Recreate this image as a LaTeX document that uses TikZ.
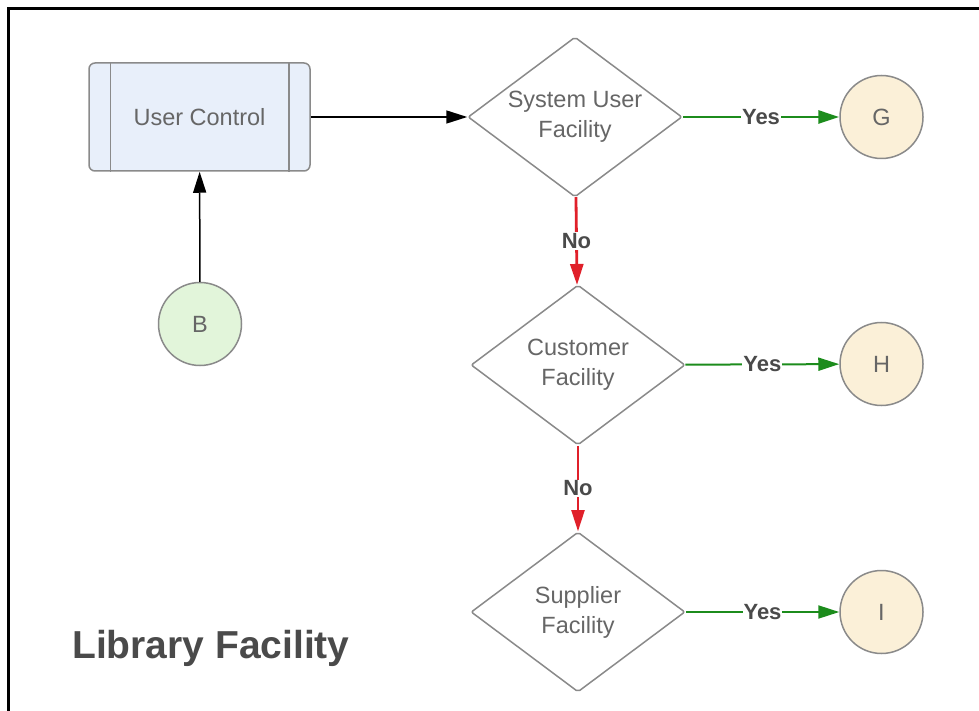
\documentclass[tikz,border=0pt]{standalone}
\usepackage{fontspec}
\setmainfont{Liberation Sans}
\usetikzlibrary{shapes.geometric,arrows.meta}

\definecolor{boxfill}{HTML}{E8EFFA}
\definecolor{startfill}{HTML}{E2F5DA}
\definecolor{endfill}{HTML}{FBF0D8}
\definecolor{shapeline}{HTML}{8A8A8A}
\definecolor{nodetext}{HTML}{666666}
\definecolor{labeltext}{HTML}{4A4A4A}
\definecolor{yesgreen}{HTML}{1C8C1C}
\definecolor{nored}{HTML}{E0202A}

\tikzset{
  nodefont/.style={text=nodetext, font=\fontsize{23.5}{30}\selectfont},
  procbox/.style={draw=shapeline, fill=boxfill, line width=1.5pt, rounded corners=6pt,
    minimum width=221pt, minimum height=108pt, inner sep=0pt, nodefont},
  decision/.style={diamond, draw=shapeline, fill=white, line width=1.5pt, rounded corners=2pt,
    minimum width=214pt, minimum height=160pt, inner sep=0pt},
  decisiontext/.style={align=center, inner sep=0pt, nodefont},
  startcirc/.style={circle, draw=shapeline, fill=startfill, line width=1.5pt,
    minimum size=83pt, inner sep=0pt, nodefont},
  endcirc/.style={circle, draw=shapeline, fill=endfill, line width=1.5pt,
    minimum size=83pt, inner sep=0pt, nodefont},
  tip/.style={-{Triangle[length=21pt,width=13pt]}},
  flow/.style={draw=black, line width=1.5pt, tip},
  yesflow/.style={draw=yesgreen, tip},
  noflow/.style={draw=nored, tip},
  edgelabel/.style={fill=white, inner sep=1pt, text=labeltext,
    font=\fontsize{22}{26}\selectfont\bfseries},
}

\begin{document}
\begin{tikzpicture}[x=1pt, y=-1pt]
  \useasboundingbox (0,0) rectangle (979,711);

  % frame along the top and left edges
  \coordinate (frameTL) at (8.5,8.5);
  \coordinate (frameTR) at (979,8.5);
  \coordinate (frameBL) at (8.5,711);
  \draw[line width=3pt] (frameBL) -- (frameTL) -- (frameTR);

  % predefined process box
  \node[procbox] (uc) at (199.5,117) {User Control};
  \draw[shapeline, line width=1.5pt] ([xshift=22pt]uc.north west) -- ([xshift=22pt]uc.south west);
  \draw[shapeline, line width=1.5pt] ([xshift=-22pt]uc.north east) -- ([xshift=-22pt]uc.south east);

  % start connector
  \node[startcirc] (b) at (200,324) {B};

  % decisions
  \node[decision] (d1) at (575,117) {};
  \node[decisiontext] (d1t) at (d1.center) {System User\\Facility};
  \node[decision] (d2) at (578,365) {};
  \node[decisiontext] (d2t) at (d2.center) {Customer\\Facility};
  \node[decision] (d3) at (578,612) {};
  \node[decisiontext] (d3t) at (d3.center) {Supplier\\Facility};

  % off-page connectors
  \node[endcirc] (g) at (881.5,117) {G};
  \node[endcirc] (h) at (881.5,364) {H};
  \node[endcirc] (i) at (881.5,612) {I};

  % flows
  \draw[flow] (b) -- (uc);
  \draw[flow] (uc) -- (d1);

  \draw[yesflow, line width=2.8pt] (d1) -- node[edgelabel] {Yes} (g);
  \draw[yesflow, line width=2pt] (d2) -- node[edgelabel] {Yes} (h);
  \draw[yesflow, line width=2pt] (d3) -- node[edgelabel] {Yes} (i);

  \draw[noflow, line width=2.8pt] (d1) -- node[edgelabel] {No} (d2);
  \draw[noflow, line width=2pt] (d2) -- node[edgelabel] {No} (d3);

  % title
  \node[anchor=base west, inner sep=0pt, text=labeltext,
        font=\fontsize{39}{44}\selectfont\bfseries] (title) at (72,658) {Library Facility};
\end{tikzpicture}
\end{document}
